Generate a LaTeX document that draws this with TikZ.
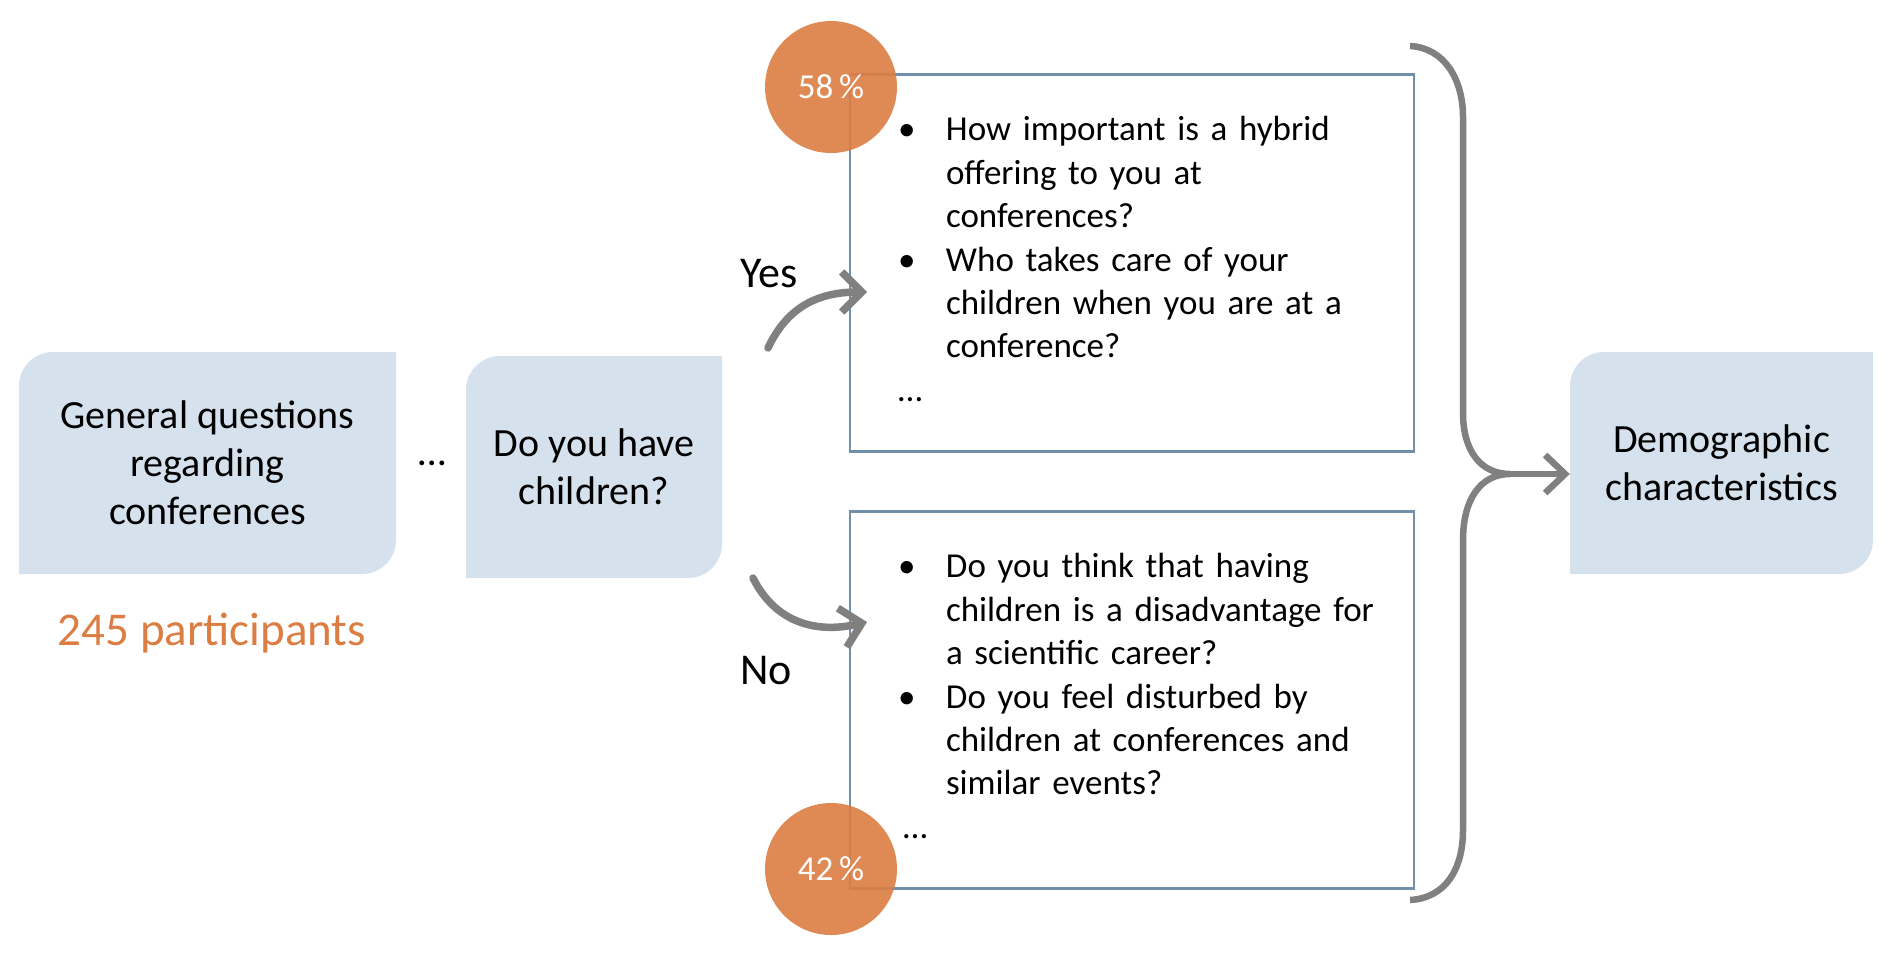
\documentclass[tikz,border=0pt]{standalone}
\usepackage{fontspec}
\setmainfont{Carlito}
\usetikzlibrary{arrows.meta}
\definecolor{boxfill}{HTML}{D5E2ED}
\definecolor{qborder}{HTML}{6F8FAA}
\definecolor{arrowgray}{HTML}{808080}
\definecolor{orangec}{HTML}{DC7E43}
\newcommand{\diagfill}[5]{%
  \fill[boxfill] (#1,#4) -- (#1,{#2+#5}) .. controls (#1,{#2+0.448*#5}) and ({#1+0.448*#5},#2) .. ({#1+#5},#2)
   -- (#3,#2) -- (#3,{#4-#5}) .. controls (#3,{#4-0.448*#5}) and ({#3-0.448*#5},#4) .. ({#3-#5},#4) -- cycle;}
\newcommand{\bul}{\makebox[48pt][l]{\textbullet}}
\newcommand{\ind}{\hspace*{48pt}}
\tikzset{
  mainbox/.style={inner sep=0pt, minimum height=222pt, align=center,
    font=\fontsize{40}{48}\selectfont},
  qbox/.style={draw=qborder, line width=2.7pt, minimum width=564pt, minimum height=377pt,
    inner xsep=48pt, inner ysep=0pt, text width=468pt, align=left,
    font=\fontsize{35}{43.4}\selectfont},
  pct/.style={circle, fill=orangec, fill opacity=0.9, text opacity=1, text=white,
    minimum size=132pt, inner sep=0pt, font=\fontsize{35}{40}\selectfont},
  conn/.style={draw=arrowgray, line width=6.5pt, line cap=round},
  arr/.style={conn, -{Straight Barb[length=20pt,width=38pt]}},
  yarr/.style={conn, line width=7.5pt, -{Straight Barb[length=20pt,width=40pt]}},
  lbl/.style={anchor=base, inner sep=0pt, font=\fontsize{44}{50}\selectfont}
}
\begin{document}
\begin{tikzpicture}[x=1pt,y=-1pt]
\useasboundingbox[fill=white] (0,0) rectangle (1892,954);

% rounded-diagonal boxes
\diagfill{19}{352}{396}{574}{34}
\diagfill{466}{356}{722}{578}{34}
\diagfill{1570}{352}{1873}{574}{34}
\node[mainbox, minimum width=377pt] (gen) at (207.5,463) {General questions\\regarding\\conferences};
\node[mainbox, minimum width=256pt] (kids) at (594,467) {Do you have\\children?};
\node[mainbox, minimum width=303pt] (demo) at (1721.5,463) {Demographic\\characteristics};

\node[anchor=base, inner sep=0pt, font=\fontsize{40}{48}\selectfont] (dots) at (432,465) {\ldots};
\node[anchor=base, inner sep=0pt, text=orangec, font=\fontsize{47}{56}\selectfont] (npart) at (212,645) {245 participants};

% question boxes
\node[qbox] (qtop) at (1132,263) {%
\bul\mbox{How important is a hybrid}\\
\ind\mbox{offering to you at}\\
\ind\mbox{conferences?}\\
\bul\mbox{Who takes care of your}\\
\ind\mbox{children when you are at a}\\
\ind\mbox{conference?}\\
\ldots\rule[-8pt]{0pt}{8pt}};
\node[qbox] (qbot) at (1132,700) {%
\bul\mbox{Do you think that having}\\
\ind\mbox{children is a disadvantage for}\\
\ind\mbox{a scientific career?}\\
\bul\mbox{Do you feel disturbed by}\\
\ind\mbox{children at conferences and}\\
\ind\mbox{similar events?}\\
\hspace*{5pt}\ldots\rule[-8pt]{0pt}{8pt}};

% percentage circles
\node[pct] (p58) at (831,87) {58\,\%};
\node[pct] (p42) at (831,869) {42\,\%};

% yes / no labels
\node[lbl] (yes) at (769,287) {Yes};
\node[lbl] (no) at (766,684) {No};

% yes / no arrows
\coordinate (yesS) at (768,348);
\coordinate (yesE) at (867,292);
\coordinate (noS) at (753,578);
\coordinate (noE) at (867,622);
\draw[yarr] (yesS) .. controls (785,312) and (812,292) .. (yesE);
\draw[yarr] (noS) .. controls (775,622) and (815,634) .. (noE);

% brace
\coordinate (btop) at (1410,46);
\coordinate (bmid) at (1510,474);
\coordinate (bbot) at (1410,900);
\draw[conn, line cap=butt] (btop) .. controls (1445,48) and (1463,80) .. (1463,117) -- (1463,413)
   .. controls (1463,450) and (1480,474) .. (bmid)
   .. controls (1480,474) and (1463,500) .. (1463,540) -- (1463,830)
   .. controls (1463,870) and (1445,898) .. (bbot);
\draw[arr] (bmid) -- (demo.west |- bmid);
\end{tikzpicture}
\end{document}
